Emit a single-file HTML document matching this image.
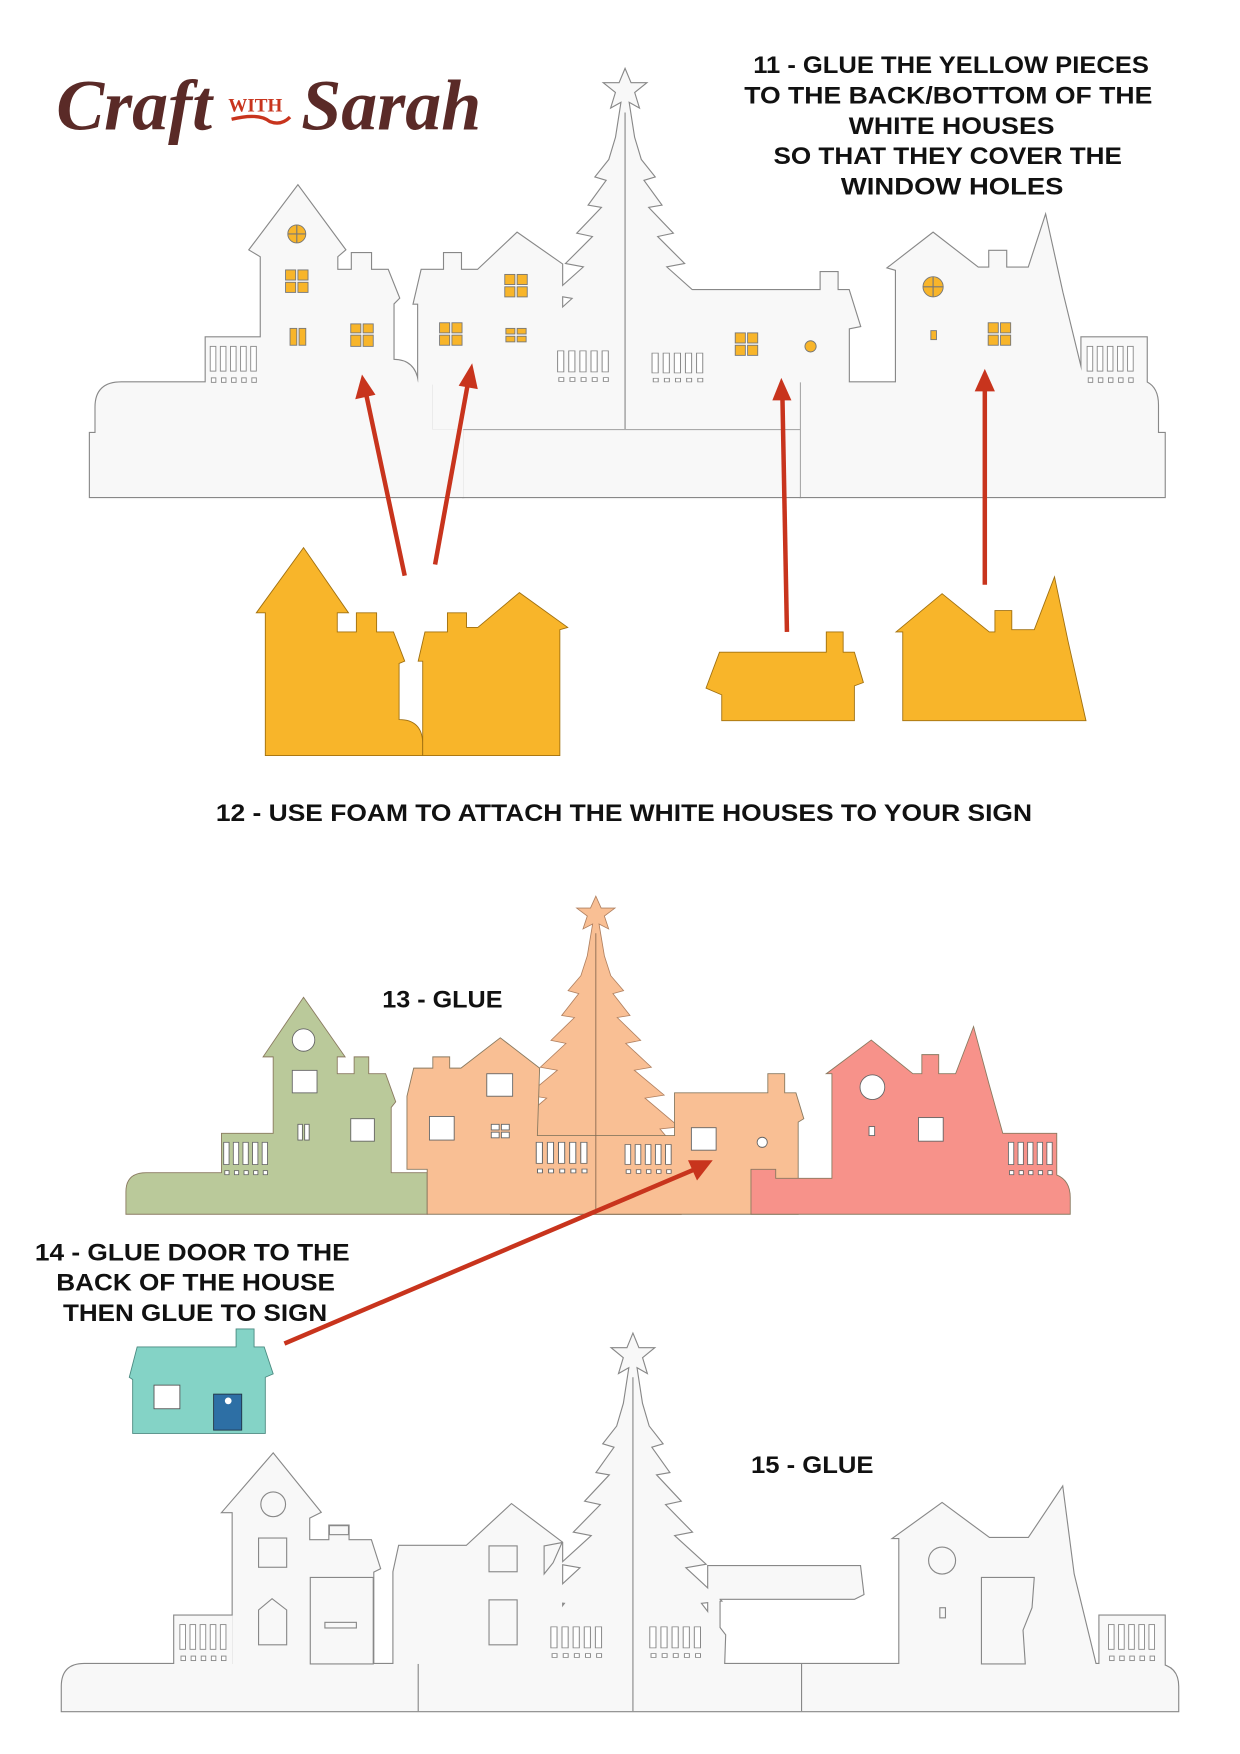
<!DOCTYPE html>
<html><head><meta charset="utf-8"><style>
html,body{margin:0;padding:0;background:#fff}
svg{display:block}
.t{font-family:"Liberation Sans",sans-serif;font-weight:bold;font-size:21px;fill:#111;text-anchor:start}
</style></head><body>
<svg width="1240" height="1754" viewBox="0 0 1103 1560" xmlns="http://www.w3.org/2000/svg">
<defs>
<path id="tree" d="M0,0 L5,12 L18,12 L8,20 L12,33 L3,28 L8,60 L14,80 L26,95 L16,98 L32,120 L20,122 L42,145 L28,148 L52,172 L36,175 L64,200 L46,203 L78,232 L60,234 L82,262 L80,320 L-80,320 L-82,262 L-60,234 L-78,232 L-46,203 L-64,200 L-36,175 L-52,172 L-28,148 L-42,145 L-20,122 L-32,120 L-16,98 L-26,95 L-14,80 L-8,60 L-3,28 L-12,33 L-8,20 L-18,12 L-5,12 Z"/>
<g id="slots5">
<rect x="0" y="0" width="5" height="22"/><rect x="9" y="0" width="5" height="22"/><rect x="18" y="0" width="5" height="22"/><rect x="27" y="0" width="5" height="22"/><rect x="36" y="0" width="5" height="22"/>
<rect x="1" y="28" width="4" height="4"/><rect x="10" y="28" width="4" height="4"/><rect x="19" y="28" width="4" height="4"/><rect x="28" y="28" width="4" height="4"/><rect x="37" y="28" width="4" height="4"/>
</g>
<g id="w1">
<path d="M80,442 V385 H85 V362 Q85,340 108,340 H385 V382 H412 V442 Z"/>
<path d="M385,340 H712 V442 H412 V382 H385 Z"/>
<path d="M712,340 H1020 Q1030,345 1030,360 V385 H1036 V442 H712 Z"/>
<rect x="183" y="300" width="50" height="42"/>
<use href="#tree" transform="translate(556,62)"/>
<path d="M222,222 L265,165 L307,222 L300,228 V240 H313 V225 H330 V240 H345 L355,265 L350,270 V320 Q370,320 372,342 H232 V228 Z"/>
<path d="M368,270 L375,240 H395 V225 H410 V240 H425 L460,207 L500,235 V342 H372 V270 Z"/>
<path d="M560,258 H730 V242 H745 V258 H755 L765,290 L755,292 V342 H560 Z"/>
<rect x="493" y="305" width="60" height="37"/>
<rect x="572" y="310" width="62" height="32"/>
<path d="M790,238 L830,207 L870,238 H880 V223 H895 V238 H915 L930,192 L945,260 L965,342 H797 V240 Z"/>
<rect x="962" y="300" width="58" height="42"/>
</g>
<g id="w3">
<path d="M55,1522 V1500 Q55,1480 75,1480 H1030 Q1048,1482 1048,1500 V1522 Z"/>
<rect x="155" y="1437" width="52" height="45"/>
<use href="#tree" transform="translate(563,1187) scale(1,1.02)"/>
<path d="M198,1345 L243,1293 L285,1345 L275,1350 V1370 H293 V1357 H310 V1370 H330 L338,1395 L332,1398 V1482 H207 V1345 Z"/>
<path d="M350,1398 L355,1375 H415 L455,1338 L500,1372 V1482 H350 Z"/>
<rect x="485" y="1440" width="60" height="42"/>
<rect x="570" y="1440" width="65" height="42"/>
<path d="M630,1393 H765 L768,1418 L760,1422 H640 V1482 H630 Z"/>
<path d="M795,1368 L838,1337 L880,1368 H915 L945,1323 L955,1400 L975,1482 H800 V1368 Z"/>
<rect x="978" y="1437" width="58" height="45"/>
</g>
</defs>

<!-- logo -->
<text x="50" y="115" style="font-family:'Liberation Serif',serif;font-style:italic;font-weight:bold;font-size:64px;fill:#5a2a27">Craft</text>
<text x="203" y="99" style="font-family:'Liberation Serif',serif;font-weight:bold;font-size:17px;fill:#c8341d">WITH</text>
<path d="M206,106 Q230,100 240,108 Q250,112 258,104" stroke="#c8341d" stroke-width="3" fill="none"/>
<text x="268" y="115" style="font-family:'Liberation Serif',serif;font-style:italic;font-weight:bold;font-size:64px;fill:#5a2a27">Sarah</text>

<text class="t" x="670" y="65" textLength="352" lengthAdjust="spacingAndGlyphs">11 - GLUE THE YELLOW PIECES</text>
<text class="t" x="662" y="92" textLength="363" lengthAdjust="spacingAndGlyphs">TO THE BACK/BOTTOM OF THE</text>
<text class="t" x="755" y="119" textLength="183" lengthAdjust="spacingAndGlyphs">WHITE HOUSES</text>
<text class="t" x="688" y="146" textLength="310" lengthAdjust="spacingAndGlyphs">SO THAT THEY COVER THE</text>
<text class="t" x="748" y="173" textLength="198" lengthAdjust="spacingAndGlyphs">WINDOW HOLES</text>

<!-- top white -->
<use href="#w1" fill="none" stroke="#888" stroke-width="2"/>
<use href="#w1" fill="#f8f8f8" stroke="none"/>
<line x1="556" y1="100" x2="556" y2="382" stroke="#888" stroke-width="1"/>
<line x1="412" y1="382" x2="712" y2="382" stroke="#aaa" stroke-width="1"/>
<line x1="712" y1="340" x2="712" y2="442" stroke="#aaa" stroke-width="1"/>
<g fill="#fff" stroke="#888" stroke-width="0.8">
<use href="#slots5" transform="translate(187,308)"/>
<use href="#slots5" transform="translate(967,308)"/>
<use href="#slots5" transform="translate(496,312) scale(1.1,0.85)"/>
<use href="#slots5" transform="translate(580,314) scale(1.1,0.8)"/>
</g>
<g fill="#f8b52a" stroke="#777" stroke-width="0.8">
<circle cx="264" cy="208" r="8"/>
<rect x="254" y="240" width="9" height="9"/><rect x="265" y="240" width="9" height="9"/><rect x="254" y="251" width="9" height="9"/><rect x="265" y="251" width="9" height="9"/>
<rect x="258" y="292" width="6" height="15"/><rect x="266" y="292" width="6" height="15"/>
<rect x="312" y="288" width="9" height="8"/><rect x="323" y="288" width="9" height="8"/><rect x="312" y="298" width="9" height="10"/><rect x="323" y="298" width="9" height="10"/>
<rect x="449" y="244" width="9" height="9"/><rect x="460" y="244" width="9" height="9"/><rect x="449" y="255" width="9" height="9"/><rect x="460" y="255" width="9" height="9"/>
<rect x="391" y="287" width="9" height="9"/><rect x="402" y="287" width="9" height="9"/><rect x="391" y="298" width="9" height="9"/><rect x="402" y="298" width="9" height="9"/>
<rect x="450" y="292" width="8" height="5"/><rect x="460" y="292" width="8" height="5"/><rect x="450" y="299" width="8" height="5"/><rect x="460" y="299" width="8" height="5"/>
<rect x="654" y="296" width="9" height="9"/><rect x="665" y="296" width="9" height="9"/><rect x="654" y="307" width="9" height="9"/><rect x="665" y="307" width="9" height="9"/>
<circle cx="721" cy="308" r="5"/>
<circle cx="830" cy="255" r="9"/>
<rect x="828" y="294" width="5" height="8"/>
<rect x="879" y="287" width="9" height="9"/><rect x="890" y="287" width="9" height="9"/><rect x="879" y="298" width="9" height="9"/><rect x="890" y="298" width="9" height="9"/>
</g>
<path d="M264,200 V216 M256,208 H272" stroke="#777" stroke-width="1"/>
<path d="M830,246 V264 M821,255 H839" stroke="#777" stroke-width="1"/>

<!-- arrows top -->
<g stroke="#c8341d" stroke-width="4" fill="#c8341d">
<line x1="360" y1="512" x2="326" y2="352"/>
<line x1="387" y1="502" x2="416" y2="342"/>
<line x1="700" y1="562" x2="696" y2="354"/>
<line x1="876" y1="520" x2="876" y2="346"/>
</g>
<g fill="#c8341d">
<polygon points="322,333 316,355 334,351"/>
<polygon points="420,323 408,343 425,346"/>
<polygon points="695,336 687,356 704,356"/>
<polygon points="876,328 867,348 885,348"/>
</g>

<!-- yellow pieces -->
<g fill="#f8b52a" stroke="#a07010" stroke-width="0.8">
<path d="M228,545 L270,487 L310,545 L300,545 V562 H317 V545 H335 V562 H350 L360,588 L355,590 V640 Q375,640 376,660 L376,672 L236,672 V545 Z"/>
<path d="M372,588 L378,562 H398 V545 H415 V558 H425 L462,527 L505,558 L498,560 V672 H376 V588 Z"/>
<path d="M628,612 L640,580 H735 V562 H750 V580 H760 L768,607 L760,610 V641 H642 V618 Z"/>
<path d="M797,562 L838,528 L880,562 H885 V543 H900 V560 H920 L938,513 L950,570 L966,641 H803 V562 Z"/>
</g>

<text class="t" x="192" y="730" textLength="726" lengthAdjust="spacingAndGlyphs">12 - USE FOAM TO ATTACH THE WHITE HOUSES TO YOUR SIGN</text>
<text class="t" x="340" y="896" textLength="107" lengthAdjust="spacingAndGlyphs">13 - GLUE</text>

<!-- colored row -->
<use href="#tree" transform="translate(530,797) scale(0.95,0.885)" fill="#f9bf94" stroke="#b08060" stroke-width="0.8"/>
<g stroke="#8a7a60" stroke-width="0.8">
<path fill="#bac99a" d="M112,1080 V1060 Q112,1043 130,1043 H197 V1008 H243 V940 L234,940 L270,887 L307,940 H300 V955 H315 V940 H328 V955 H343 L352,980 L348,985 V1043 H380 V1080 Z"/>
<path fill="#f9bf94" d="M380,1080 V1040 H362 V975 L368,950 H385 V940 H400 V950 H410 L445,923 L480,950 L478,1010 H600 V972 H683 V955 H698 V972 H708 L715,995 L710,998 V1080 Z"/>
<path fill="#f7928a" d="M668,1080 V1040 H690 V1048 H740 V955 L735,955 L775,925 L812,955 H820 V938 H835 V955 H850 L866,913 L880,965 L892,1008 H940 V1045 Q952,1050 952,1065 V1080 Z"/>
</g>
<line x1="530" y1="830" x2="530" y2="1080" stroke="#8a6a50" stroke-width="0.8"/>
<g fill="#fff" stroke="#666" stroke-width="0.8">
<circle cx="270" cy="925" r="10"/>
<rect x="260" y="952" width="22" height="20"/>
<rect x="265" y="1000" width="4" height="14"/><rect x="271" y="1000" width="4" height="14"/>
<rect x="312" y="995" width="21" height="20"/>
<rect x="433" y="955" width="23" height="20"/>
<rect x="382" y="993" width="22" height="21"/>
<rect x="437" y="1000" width="7" height="5"/><rect x="446" y="1000" width="7" height="5"/><rect x="437" y="1007" width="7" height="5"/><rect x="446" y="1007" width="7" height="5"/>
<rect x="615" y="1003" width="22" height="20"/>
<circle cx="678" cy="1016" r="4.5"/>
<circle cx="776" cy="967" r="11"/>
<rect x="817" y="994" width="22" height="21"/>
<rect x="773" y="1002" width="5" height="8"/>
<use href="#slots5" transform="translate(199,1016) scale(0.95,0.9)"/>
<use href="#slots5" transform="translate(477,1016) scale(1.1,0.85)"/>
<use href="#slots5" transform="translate(556,1018) scale(1.0,0.8)"/>
<use href="#slots5" transform="translate(897,1016) scale(0.95,0.9)"/>
</g>

<!-- arrow 14 -->
<line x1="253" y1="1195" x2="618" y2="1040" stroke="#c8341d" stroke-width="4"/>
<polygon points="634,1032 612,1032 620,1050" fill="#c8341d"/>

<text class="t" x="31" y="1121" textLength="280" lengthAdjust="spacingAndGlyphs">14 - GLUE DOOR TO THE</text>
<text class="t" x="50" y="1148" textLength="248" lengthAdjust="spacingAndGlyphs">BACK OF THE HOUSE</text>
<text class="t" x="56" y="1175" textLength="235" lengthAdjust="spacingAndGlyphs">THEN GLUE TO SIGN</text>

<path fill="#84d3c6" stroke="#4a8a80" stroke-width="0.8" d="M115,1225 L122,1198 H210 V1182 H226 V1198 H235 L243,1222 L236,1225 V1275 H118 V1227 Z"/>
<rect x="137" y="1232" width="23" height="21" fill="#fff" stroke="#555" stroke-width="0.8"/>
<rect x="190" y="1240" width="25" height="32" fill="#2d6fa5" stroke="#234" stroke-width="0.8"/>
<circle cx="203" cy="1246" r="3" fill="#fff"/>

<text class="t" x="668" y="1310" textLength="109" lengthAdjust="spacingAndGlyphs">15 - GLUE</text>

<!-- bottom white -->
<use href="#w3" fill="none" stroke="#888" stroke-width="2"/>
<use href="#w3" fill="#f8f8f8" stroke="none"/>
<g fill="none" stroke="#888" stroke-width="1">
<line x1="563" y1="1225" x2="563" y2="1522"/>
<line x1="372" y1="1480" x2="372" y2="1522"/>
<line x1="713" y1="1480" x2="713" y2="1522"/>
<circle cx="243" cy="1338" r="11"/>
<rect x="230" y="1368" width="25" height="26"/>
<path d="M230,1463 V1432 L242,1422 L255,1432 V1463 Z"/>
<path d="M276,1403 H332 V1480 H276 Z"/>
<rect x="289" y="1443" width="28" height="5"/>
<rect x="293" y="1357" width="17" height="8"/>
<rect x="435" y="1375" width="25" height="23"/>
<rect x="435" y="1423" width="25" height="40"/>
<path d="M484,1375 L500,1372 L492,1390 L484,1400 Z"/>
<circle cx="838" cy="1388" r="12"/>
<rect x="836" y="1430" width="5" height="9"/>
<path d="M873,1403 H920 L918,1430 L910,1450 L912,1480 H873 Z"/>
</g>
<g fill="#fff" stroke="#888" stroke-width="0.8">
<use href="#slots5" transform="translate(160,1445)"/>
<use href="#slots5" transform="translate(490,1447) scale(1.1,0.85)"/>
<use href="#slots5" transform="translate(578,1447) scale(1.1,0.85)"/>
<use href="#slots5" transform="translate(986,1445)"/>
</g>
</svg>
</body></html>
